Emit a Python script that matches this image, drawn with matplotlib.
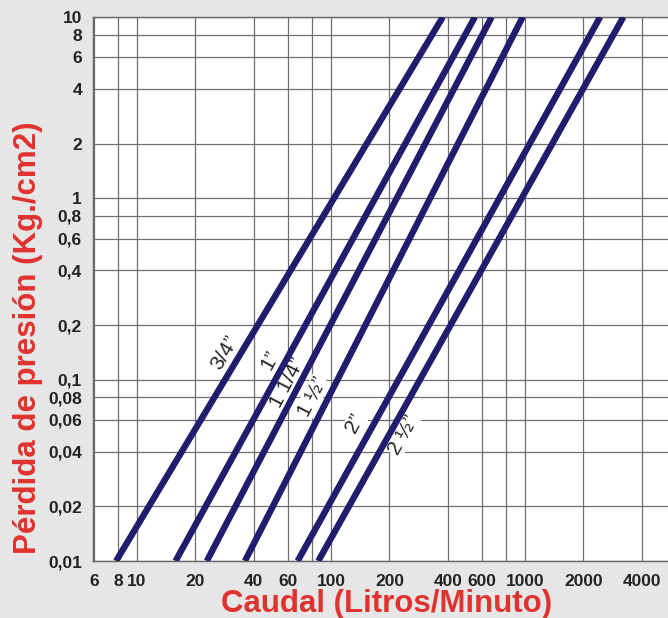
import numpy as np
import matplotlib
matplotlib.use("Agg")
import matplotlib.pyplot as plt
from matplotlib.ticker import FixedLocator, FixedFormatter, NullFormatter

# ---- data ----
pipe_sizes = ["3/4\u201d", "1\u201d", "1 1/4\u201d", "1 \u00bd\u201d", "2\u201d", "2 \u00bd\u201d"]
pressure_ends = [0.01, 10]            # Kg/cm2 at both ends of every line
flow_3_4 = [7.8, 377]                  # L/min
flow_1 = [15.8, 552]
flow_1_1_4 = [22.9, 673]
flow_1_1_2 = [36.0, 973]
flow_2 = [67.3, 2440]
flow_2_1_2 = [86.0, 3214]
flows = [flow_3_4, flow_1, flow_1_1_4, flow_1_1_2, flow_2, flow_2_1_2]

x_ticks = [6, 8, 10, 20, 40, 60, 100, 200, 400, 600, 1000, 2000, 4000]
x_tick_labels = ["6", "8", "10", "20", "40", "60", "100", "200", "400", "600", "1000", "2000", "4000"]
x_minor_grid = [80, 800]
y_ticks = [0.01, 0.02, 0.04, 0.06, 0.08, 0.1, 0.2, 0.4, 0.6, 0.8, 1, 2, 4, 6, 8, 10]
y_tick_labels = ["0,01", "0,02", "0,04", "0,06", "0,08", "0,1", "0,2", "0,4",
                 "0,6", "0,8", "1", "2", "4", "6", "8", "10"]

# label anchor points (layout, not data)
label_pos = [(28.4, 0.140), (48.5, 0.128), (60.0, 0.096), (79.8, 0.080), (133, 0.0577), (235, 0.0495)]

# ---- style ----
BG = "#e6e6e6"
NAVY = "#201c6e"
RED = "#e0322f"
TXT = "#222222"
FONT = "Liberation Sans"

plt.rcParams["font.family"] = [FONT, "DejaVu Sans"]

W, H = 668, 618
fig = plt.figure(figsize=(W / 100, H / 100), dpi=100, facecolor=BG)
ax = fig.add_axes([93 / W, 57 / H, (W - 93) / W, 544 / H])
ax.set_facecolor("white")
ax.set_xscale("log")
ax.set_yscale("log")
ax.set_xlim(5.93, 5460)
ax.set_ylim(0.01, 10)

ax.xaxis.set_major_locator(FixedLocator(x_ticks))
ax.xaxis.set_major_formatter(FixedFormatter(x_tick_labels))
ax.xaxis.set_minor_locator(FixedLocator(x_minor_grid))
ax.xaxis.set_minor_formatter(NullFormatter())
ax.yaxis.set_major_locator(FixedLocator(y_ticks))
ax.yaxis.set_major_formatter(FixedFormatter(y_tick_labels))
ax.yaxis.set_minor_locator(FixedLocator([]))

ax.grid(True, which="both", color="#6e6e6e", linewidth=0.9)
ax.set_axisbelow(True)
ax.tick_params(axis="both", which="both", length=0)
ax.tick_params(axis="x", pad=9, labelsize=12.5, labelcolor=TXT)
ax.tick_params(axis="y", pad=8, labelsize=12.5, labelcolor=TXT)
for lab in ax.get_xticklabels() + ax.get_yticklabels():
    lab.set_fontweight("bold")

for side in ["left", "bottom", "top"]:
    ax.spines[side].set_color("#666666")
    ax.spines[side].set_linewidth(1.0)
ax.spines["right"].set_visible(False)

for f in flows:
    ax.plot(f, pressure_ends, color=NAVY, linewidth=4.6, solid_capstyle="butt", zorder=3)

for name, f, (lx, ly) in zip(pipe_sizes, flows, label_pos):
    p0 = ax.transData.transform((f[0], pressure_ends[0]))
    p1 = ax.transData.transform((f[1], pressure_ends[1]))
    ang = np.degrees(np.arctan2(p1[1] - p0[1], p1[0] - p0[0]))
    ax.text(lx, ly, name, rotation=ang, rotation_mode="anchor", ha="center", va="center",
            fontsize=15, color=TXT, zorder=2,
            bbox=dict(facecolor="white", edgecolor="none", pad=0.5))

fig.text(387 / W, 1 - 604 / H, "Caudal (Litros/Minuto)", ha="center", va="center",
         fontsize=22.5, fontweight="bold", color=RED)
fig.text(28 / W, 1 - 338 / H, "P\u00e9rdida de presi\u00f3n (Kg./cm2)", ha="center", va="center",
         rotation=90, fontsize=22.5, fontweight="bold", color=RED)

fig.savefig("out.png", dpi=100, facecolor=BG)
